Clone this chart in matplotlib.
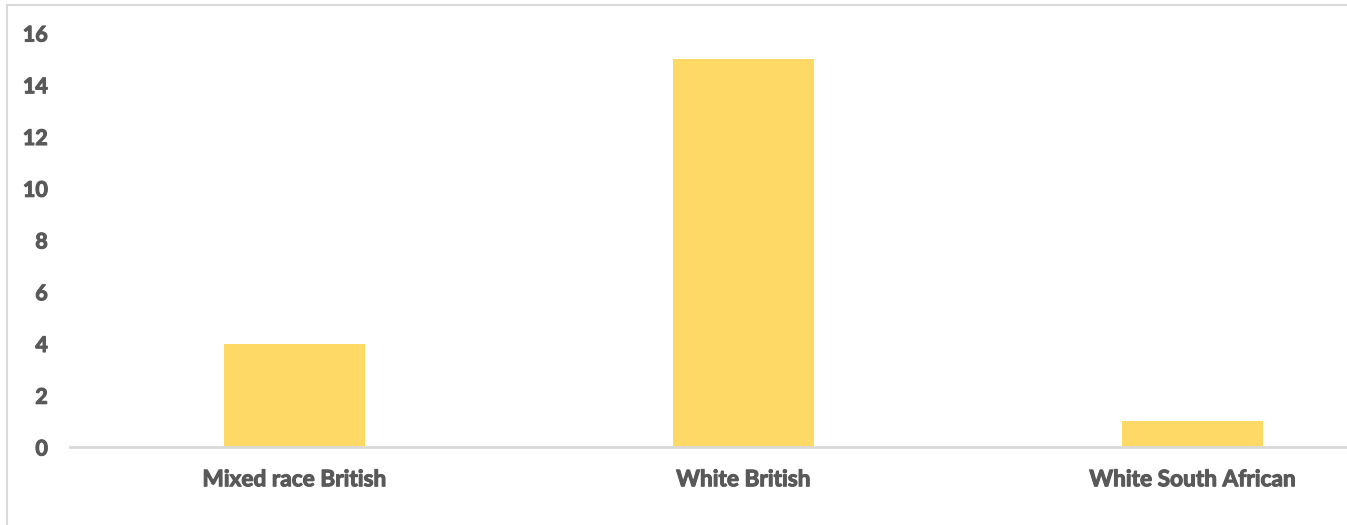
import matplotlib.pyplot as plt
import matplotlib.patheffects as pe
from matplotlib.patches import Rectangle

# ethnicity counts
categories = ['Mixed race British', 'White British', 'White South African']
counts = [4, 15, 1]
yticks = [0, 2, 4, 6, 8, 10, 12, 14, 16]

plt.rcParams['font.family'] = ['Lato', 'DejaVu Sans']

fig = plt.figure(figsize=(13.47, 5.25), dpi=100)

# light chart-area border, right/bottom edges run off the canvas
fig.patches.append(Rectangle((7 / 1347, -0.1), 1.2, 1 - 5 / 525 + 0.1,
                             transform=fig.transFigure, fill=False,
                             edgecolor='#D9D9D9', linewidth=1.5))

ax = fig.add_axes([70 / 1347, 78 / 525, 1347 / 1347, (447 - 33) / 525])
x = range(len(categories))
ax.bar(x, counts, width=0.314, color='#FFD966', zorder=2)

ax.set_xlim(-0.5, len(categories) - 0.5)
ax.set_ylim(0, 16)
ax.set_yticks(yticks)
ax.set_xticks(list(x))
ax.set_xticklabels(categories)

for s in ['top', 'right', 'left']:
    ax.spines[s].set_visible(False)
ax.spines['bottom'].set_color('#D9D9D9')
ax.spines['bottom'].set_linewidth(2)
ax.spines['bottom'].set_zorder(3)

ax.tick_params(axis='both', length=0, colors='#595959')
ax.tick_params(axis='y', pad=16, labelsize=15.5)
ax.tick_params(axis='x', pad=16, labelsize=16.3)
# heavier strokes on the labels
thick = [pe.withStroke(linewidth=0.8, foreground='#595959')]
for lab in ax.get_xticklabels() + ax.get_yticklabels():
    lab.set_fontweight('bold')
    lab.set_path_effects(thick)

fig.savefig('out.png', dpi=100)
